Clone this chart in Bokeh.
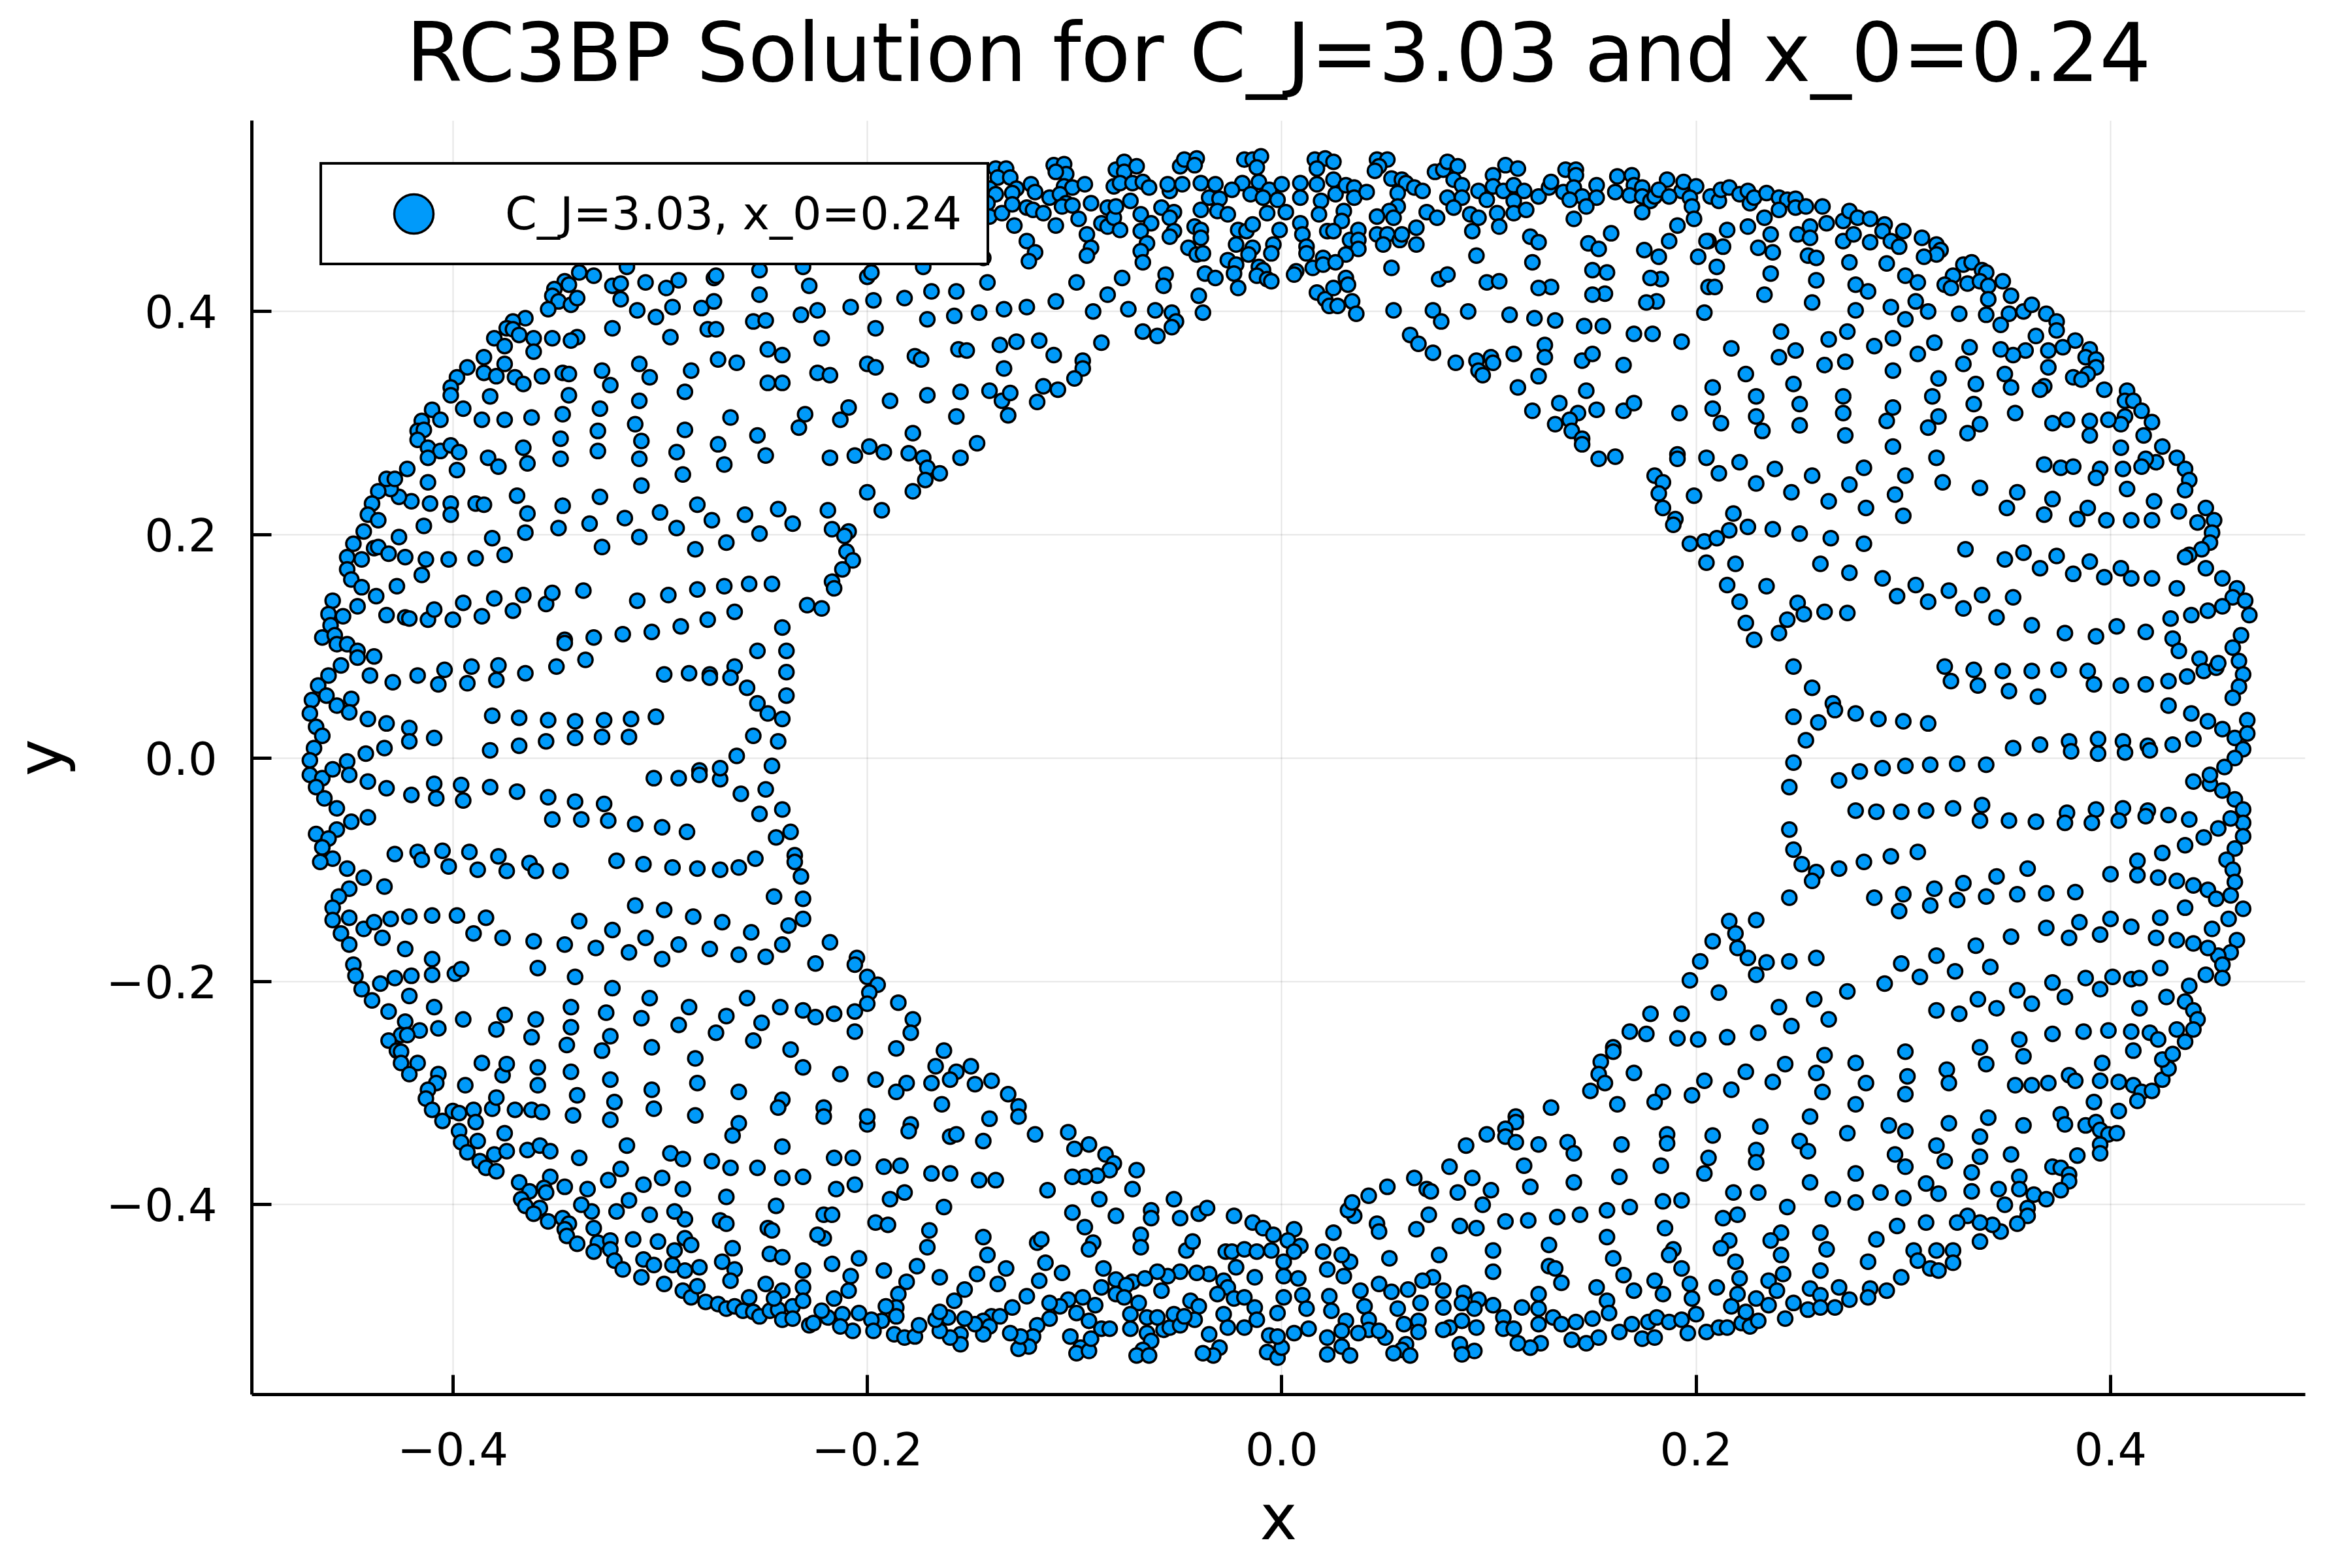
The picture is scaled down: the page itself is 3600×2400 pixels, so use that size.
from bokeh.plotting import figure
from bokeh.models import FixedTicker, Legend, LegendItem
from bokeh.embed import file_html
from bokeh.resources import INLINE

TITLE = "RC3BP Solution for C_J=3.03 and x_0=0.24"
SERIES_LABEL = "C_J=3.03, x_0=0.24"
X_LABEL = "x"
Y_LABEL = "y"
x_ticks = [-0.4, -0.2, 0.0, 0.2, 0.4]
x_tick_labels = ["\u22120.4", "\u22120.2", "0.0", "0.2", "0.4"]
y_ticks = [-0.4, -0.2, 0.0, 0.2, 0.4]
y_tick_labels = ["\u22120.4", "\u22120.2", "0.0", "0.2", "0.4"]

# (x, y) points of the trajectory
upper_left = [
(-0.339,0.435),(-0.332,0.432),(-0.346,0.427),(-0.344,0.424),(-0.351,0.420),(-0.352,0.414),(-0.349,0.409),(-0.343,0.406),(-0.340,0.412),(-0.354,0.402),
(-0.323,0.423),(-0.319,0.425),(-0.319,0.411),(-0.316,0.440),(-0.307,0.426),(-0.297,0.421),(-0.291,0.428),(-0.294,0.404),(-0.311,0.401),(-0.302,0.395),
(-0.280,0.403),(-0.274,0.409),(-0.274,0.430),(-0.273,0.432),(-0.252,0.437),(-0.252,0.415),(-0.231,0.440),(-0.228,0.423),(-0.232,0.397),(-0.255,0.391),
(-0.249,0.392),(-0.295,0.377),(-0.277,0.384),(-0.273,0.384),(-0.323,0.385),(-0.340,0.377),(-0.343,0.374),(-0.352,0.376),(-0.361,0.376),(-0.361,0.364),
(-0.365,0.394),(-0.371,0.391),(-0.374,0.385),(-0.371,0.384),(-0.368,0.379),(-0.380,0.376),(-0.375,0.369),(-0.385,0.359),(-0.375,0.353),(-0.393,0.350),
(-0.398,0.341),(-0.401,0.332),(-0.401,0.325),(-0.385,0.345),(-0.379,0.342),(-0.370,0.341),(-0.366,0.335),(-0.357,0.342),(-0.347,0.345),(-0.344,0.344),
(-0.344,0.325),(-0.328,0.347),(-0.324,0.334),(-0.310,0.353),(-0.305,0.341),(-0.285,0.347),(-0.272,0.357),(-0.263,0.354),(-0.248,0.366),(-0.241,0.361),
(-0.248,0.336),(-0.241,0.336),(-0.288,0.328),(-0.310,0.320),(-0.382,0.324),(-0.395,0.313),(-0.410,0.312),(-0.406,0.303),(-0.415,0.302),(-0.417,0.293),
(-0.414,0.294),(-0.417,0.285),(-0.412,0.278),(-0.406,0.275),(-0.401,0.280),(-0.397,0.274),(-0.412,0.269),(-0.398,0.258),(-0.386,0.303),(-0.375,0.303),
(-0.362,0.305),(-0.347,0.308),(-0.329,0.313),(-0.330,0.293),(-0.312,0.299),(-0.309,0.284),(-0.288,0.294),(-0.266,0.305),(-0.253,0.289),(-0.230,0.308),
(-0.233,0.296),(-0.348,0.286),(-0.366,0.278),(-0.383,0.269),(-0.378,0.261),(-0.364,0.264),(-0.348,0.268),(-0.330,0.275),(-0.310,0.268),(-0.292,0.274),
(-0.272,0.281),(-0.269,0.263),(-0.249,0.271),(-0.289,0.254),(-0.309,0.244),(-0.329,0.234),(-0.347,0.226),(-0.364,0.219),(-0.369,0.235),(-0.389,0.228),
(-0.385,0.227),(-0.401,0.228),(-0.401,0.218),(-0.411,0.228),(-0.420,0.230),(-0.426,0.234),(-0.430,0.241),(-0.432,0.250),(-0.428,0.250),(-0.422,0.259),
(-0.412,0.247),(-0.436,0.239),(-0.439,0.228),(-0.441,0.218),(-0.436,0.213),(-0.443,0.203),(-0.414,0.208),(-0.426,0.198),(-0.438,0.188),(-0.436,0.189),
(-0.431,0.183),(-0.423,0.180),(-0.413,0.178),(-0.402,0.178),(-0.389,0.179),(-0.375,0.182),(-0.381,0.197),(-0.365,0.202),(-0.349,0.206),(-0.334,0.210),
(-0.317,0.215),(-0.300,0.220),(-0.282,0.227),(-0.259,0.218),(-0.243,0.223),(-0.236,0.210),(-0.275,0.213),(-0.292,0.206),(-0.310,0.198),(-0.328,0.189),
(-0.283,0.187),(-0.268,0.193),(-0.252,0.201),(-0.448,0.192),(-0.451,0.180),(-0.444,0.178),(-0.451,0.169),(-0.449,0.160),(-0.444,0.153),(-0.427,0.154),
(-0.415,0.164),(-0.437,0.145),(-0.458,0.141),(-0.446,0.136),(-0.460,0.129),(-0.453,0.127),(-0.459,0.119),(-0.463,0.108),(-0.457,0.110),(-0.432,0.128),
(-0.423,0.126),(-0.421,0.125),(-0.412,0.124),(-0.409,0.133),(-0.400,0.124),(-0.386,0.127),(-0.395,0.139),(-0.380,0.143),(-0.366,0.146),(-0.371,0.132),
(-0.355,0.138),(-0.352,0.148),(-0.337,0.150),(-0.311,0.141),(-0.296,0.146),(-0.282,0.151),(-0.269,0.154),(-0.257,0.156),(-0.246,0.156),(-0.229,0.137),
(-0.264,0.131),(-0.277,0.124),(-0.290,0.118),(-0.304,0.113),(-0.318,0.111),(-0.332,0.108),(-0.346,0.106),(-0.241,0.117),
]

upper_mid = [
(-0.138,0.528),(-0.133,0.528),(-0.137,0.520),(-0.131,0.520),(-0.128,0.510),(-0.130,0.506),(-0.141,0.510),(-0.138,0.505),(-0.142,0.497),(-0.141,0.485),
(-0.135,0.488),(-0.130,0.496),(-0.129,0.477),(-0.121,0.514),(-0.119,0.507),(-0.123,0.493),(-0.120,0.491),(-0.115,0.488),(-0.112,0.502),(-0.110,0.531),
(-0.105,0.532),(-0.104,0.523),(-0.109,0.525),(-0.105,0.512),(-0.101,0.511),(-0.095,0.514),(-0.107,0.505),(-0.104,0.497),(-0.106,0.494),(-0.101,0.495),
(-0.109,0.477),(-0.098,0.483),(-0.092,0.497),(-0.094,0.469),(-0.092,0.457),(-0.094,0.450),(-0.123,0.463),(-0.119,0.453),(-0.122,0.445),(-0.084,0.493),
(-0.087,0.479),(-0.084,0.476),(-0.081,0.484),(-0.078,0.473),(-0.080,0.494),(-0.080,0.527),(-0.076,0.534),(-0.076,0.525),(-0.070,0.530),(-0.081,0.512),
(-0.078,0.515),(-0.073,0.499),(-0.072,0.515),(-0.067,0.516),(-0.064,0.511),(-0.068,0.487),(-0.063,0.479),(-0.068,0.472),(-0.065,0.461),(-0.068,0.454),
(-0.067,0.444),(-0.058,0.493),(-0.054,0.508),(-0.055,0.514),(-0.052,0.489),(-0.054,0.484),(-0.052,0.472),(-0.054,0.467),(-0.049,0.530),(-0.047,0.536),
(-0.041,0.537),(-0.042,0.531),(-0.048,0.514),(-0.039,0.515),(-0.032,0.514),(-0.035,0.502),(-0.030,0.501),(-0.031,0.490),(-0.039,0.491),(-0.026,0.487),
(-0.042,0.476),(-0.039,0.473),(-0.039,0.466),(-0.045,0.457),(-0.041,0.451),(-0.038,0.452),(-0.037,0.434),(-0.032,0.430),(-0.040,0.414),(-0.038,0.399),
(-0.056,0.433),(-0.057,0.423),(-0.018,0.536),(-0.014,0.536),(-0.010,0.539),(-0.012,0.529),(-0.019,0.515),(-0.024,0.509),(-0.015,0.505),(-0.011,0.516),
(-0.006,0.509),(-0.009,0.502),(-0.002,0.500),(0.000,0.514),(-0.007,0.488),(0.002,0.489),(-0.021,0.473),(-0.017,0.472),(-0.014,0.478),(-0.001,0.473),
(-0.022,0.460),(-0.014,0.457),(-0.004,0.460),(-0.016,0.451),(-0.005,0.452),(-0.026,0.446),(-0.022,0.442),(-0.023,0.434),(-0.021,0.421),(-0.011,0.440),
(-0.009,0.437),(-0.012,0.432),(-0.007,0.429),(-0.005,0.427),(0.009,0.479),(0.010,0.469),(0.012,0.458),(0.012,0.452),(0.007,0.436),(0.006,0.433),
(0.015,0.439),(0.020,0.448),(0.020,0.442),(0.017,0.417),(0.021,0.411),(0.016,0.536),(0.021,0.537),(0.017,0.528),(0.017,0.514),(0.009,0.515),
(0.009,0.502),(0.019,0.499),(0.018,0.487),(0.022,0.472),(0.023,0.405),
(-0.200,0.431),(-0.198,0.435),(-0.173,0.440),(-0.144,0.448),(-0.142,0.426),(-0.099,0.426),(-0.077,0.430),(-0.084,0.415),(-0.074,0.402),(-0.061,0.401),
(-0.053,0.399),(-0.051,0.391),(-0.053,0.386),(-0.067,0.382),(-0.060,0.378),(-0.091,0.400),(-0.109,0.409),(-0.123,0.404),(-0.134,0.402),(-0.146,0.399),
(-0.158,0.396),(-0.171,0.393),(-0.157,0.418),(-0.169,0.418),(-0.182,0.412),(-0.197,0.410),(-0.208,0.404),(-0.224,0.401),(-0.196,0.385),(-0.222,0.376),
(-0.200,0.353),(-0.196,0.350),(-0.224,0.345),(-0.218,0.343),(-0.177,0.360),(-0.174,0.357),(-0.156,0.366),(-0.152,0.365),(-0.136,0.370),(-0.128,0.373),
(-0.117,0.374),(-0.110,0.361),(-0.096,0.356),(-0.096,0.349),(-0.100,0.340),(-0.108,0.330),(-0.115,0.333),(-0.118,0.319),(-0.134,0.349),(-0.141,0.329),
(-0.135,0.320),(-0.131,0.327),(-0.132,0.307),(-0.155,0.328),(-0.157,0.306),(-0.171,0.325),(-0.189,0.320),(-0.209,0.314),(-0.213,0.303),(-0.178,0.291),
(-0.199,0.279),(-0.192,0.274),(-0.218,0.269),(-0.206,0.271),(-0.180,0.273),(-0.173,0.269),(-0.171,0.260),(-0.165,0.255),(-0.172,0.249),(-0.178,0.239),
(-0.155,0.269),(-0.147,0.282),(-0.200,0.238),(-0.193,0.222),(-0.219,0.222),(-0.217,0.205),(-0.209,0.203),(-0.211,0.199),(-0.210,0.185),(-0.207,0.177),
(-0.212,0.169),(-0.217,0.158),(-0.216,0.152),(-0.222,0.134),(-0.087,0.372),
]

upper_center_right = [
(0.025,0.534),(0.025,0.518),(0.026,0.505),(0.031,0.513),(0.035,0.511),(0.035,0.502),(0.041,0.507),(0.030,0.490),(0.029,0.481),(0.025,0.472),
(0.033,0.464),(0.037,0.473),(0.037,0.464),(0.037,0.456),(0.031,0.451),(0.026,0.444),(0.046,0.536),(0.051,0.536),(0.047,0.530),(0.045,0.526),
(0.053,0.519),(0.058,0.518),(0.060,0.515),(0.064,0.511),(0.068,0.508),(0.056,0.506),(0.056,0.494),(0.052,0.490),(0.054,0.484),(0.046,0.485),
(0.046,0.469),(0.051,0.469),(0.049,0.460),(0.057,0.464),(0.058,0.469),(0.065,0.475),(0.065,0.460),(0.070,0.489),(0.075,0.484),(0.074,0.525),
(0.078,0.527),(0.080,0.534),(0.085,0.530),(0.083,0.518),(0.087,0.513),(0.080,0.502),(0.087,0.502),(0.083,0.493),(0.091,0.487),(0.095,0.484),
(0.095,0.508),(0.099,0.500),(0.102,0.522),(0.102,0.512),(0.107,0.508),(0.108,0.531),(0.114,0.528),(0.112,0.513),(0.117,0.508),(0.112,0.499),
(0.104,0.488),(0.112,0.488),(0.118,0.491),(0.092,0.472),(0.105,0.476),(0.124,0.503),(0.129,0.511),(0.130,0.516),(0.136,0.507),(0.137,0.527),
(0.142,0.527),(0.142,0.522),(0.141,0.511),(0.145,0.503),(0.139,0.500),(0.152,0.513),(0.152,0.502),(0.147,0.494),(0.141,0.483),(0.161,0.507),
(0.162,0.521),(0.169,0.522),(0.170,0.513),(0.168,0.504),(0.174,0.511),(0.174,0.503),(0.178,0.499),(0.174,0.489),(0.180,0.503),(0.186,0.518),
(0.182,0.509),(0.193,0.508),(0.194,0.516),(0.200,0.512),(0.197,0.502),(0.198,0.494),(0.199,0.483),(0.187,0.503),(0.207,0.503),(0.211,0.499),
(0.212,0.509),(0.216,0.511),(0.221,0.505),(0.225,0.508),(0.226,0.497),(0.228,0.502),(0.234,0.506),(0.240,0.502),(0.244,0.500),(0.248,0.501),
(0.248,0.493),(0.253,0.494),(0.240,0.491),(0.261,0.494),(0.271,0.481),(0.274,0.490),(0.233,0.484),(0.191,0.477),(0.187,0.463),(0.215,0.473),
(0.206,0.463),(0.213,0.458),(0.225,0.476),(0.236,0.469),(0.263,0.479),(0.255,0.476),(0.249,0.469),(0.255,0.466),(0.271,0.463),(0.276,0.469),
(0.230,0.457),(0.237,0.453),(0.254,0.450),(0.258,0.448),(0.274,0.444),(0.277,0.424),(0.277,0.401),(0.258,0.428),(0.256,0.408),
(0.159,0.470),(0.148,0.461),(0.153,0.456),(0.175,0.455),(0.182,0.449),(0.201,0.449),(0.205,0.463),(0.210,0.440),(0.236,0.434),(0.233,0.415),
(0.206,0.422),(0.209,0.422),(0.204,0.399),(0.183,0.429),(0.178,0.430),(0.181,0.409),(0.176,0.408),(0.157,0.435),(0.150,0.437),(0.156,0.416),
(0.150,0.415),(0.130,0.422),(0.124,0.421),(0.121,0.444),(0.120,0.467),(0.124,0.462),(0.094,0.450),(0.053,0.439),(0.076,0.429),(0.080,0.433),
(0.099,0.426),(0.105,0.427),(0.031,0.430),(0.032,0.424),(0.025,0.421),(0.034,0.409),(0.027,0.405),(0.036,0.398),(0.054,0.401),(0.073,0.401),
(0.077,0.391),(0.090,0.400),(0.110,0.397),(0.122,0.394),(0.132,0.392),(0.146,0.387),(0.155,0.387),(0.170,0.380),(0.179,0.380),(0.193,0.373),
(0.062,0.379),(0.066,0.371),(0.073,0.363),(0.084,0.354),(0.094,0.356),(0.095,0.347),(0.097,0.343),(0.101,0.359),(0.102,0.354),(0.112,0.362),
(0.127,0.370),(0.127,0.359),(0.145,0.356),(0.150,0.362),(0.165,0.352),(0.124,0.342),(0.114,0.332),(0.147,0.329),(0.121,0.311),(0.134,0.318),
(0.143,0.309),(0.139,0.303),(0.132,0.299),(0.140,0.293),(0.145,0.286),(0.145,0.281),(0.152,0.312),(0.165,0.311),(0.170,0.318),(0.153,0.268),
(0.161,0.270),(0.192,0.309),(0.208,0.332),(0.208,0.313),(0.212,0.300),(0.217,0.367),(0.224,0.344),(0.229,0.324),(0.229,0.306),(0.232,0.293),
(0.241,0.382),(0.248,0.365),(0.240,0.359),(0.247,0.335),(0.250,0.317),(0.250,0.298),(0.264,0.375),(0.262,0.352),(0.273,0.382),(0.272,0.355),
(0.271,0.324),(0.271,0.309),(0.272,0.289),(0.191,0.272),(0.191,0.268),(0.205,0.269),(0.211,0.255),(0.221,0.265),(0.229,0.246),(0.238,0.259),
(0.246,0.238),(0.256,0.253),(0.264,0.230),(0.274,0.245),(0.180,0.253),(0.184,0.247),(0.182,0.237),(0.199,0.235),(0.184,0.224),(0.190,0.214),
(0.189,0.209),(0.197,0.192),(0.204,0.194),(0.210,0.197),(0.216,0.204),(0.218,0.219),(0.225,0.207),(0.237,0.205),(0.250,0.201),(0.265,0.197),
(0.205,0.175),(0.219,0.174),(0.215,0.155),(0.234,0.154),(0.221,0.140),(0.224,0.121),(0.240,0.112),(0.244,0.124),(0.249,0.139),(0.252,0.129),
(0.260,0.174),(0.262,0.131),(0.273,0.130),(0.274,0.166),(0.228,0.106),
]

upper_right = [
(0.278,0.484),(0.284,0.483),(0.291,0.478),(0.290,0.472),(0.284,0.462),(0.294,0.463),(0.300,0.472),(0.298,0.458),(0.309,0.466),(0.316,0.460),
(0.318,0.455),(0.316,0.451),(0.310,0.449),(0.292,0.443),(0.301,0.432),(0.307,0.426),(0.283,0.418),(0.306,0.409),(0.312,0.400),(0.294,0.404),
(0.301,0.393),(0.327,0.398),(0.329,0.442),(0.333,0.444),(0.338,0.437),(0.340,0.435),(0.324,0.432),(0.320,0.424),(0.323,0.421),(0.331,0.425),
(0.337,0.427),(0.341,0.423),(0.348,0.427),(0.341,0.411),(0.340,0.397),(0.352,0.414),(0.351,0.398),(0.347,0.388),(0.358,0.400),(0.362,0.406),
(0.369,0.398),(0.374,0.391),(0.374,0.383),(0.364,0.378),(0.383,0.374),(0.390,0.366),(0.388,0.359),(0.393,0.357),(0.393,0.350),(0.389,0.344),
(0.382,0.341),(0.386,0.339),(0.370,0.365),(0.377,0.368),(0.359,0.365),(0.353,0.361),(0.347,0.366),(0.332,0.368),(0.329,0.353),(0.315,0.372),
(0.307,0.362),(0.295,0.376),(0.286,0.369),(0.295,0.347),(0.317,0.340),(0.314,0.324),(0.295,0.314),(0.292,0.302),(0.317,0.306),(0.312,0.296),
(0.335,0.335),(0.334,0.317),(0.337,0.299),(0.331,0.291),(0.349,0.344),(0.352,0.332),(0.354,0.309),(0.370,0.350),(0.368,0.333),(0.366,0.330),
(0.397,0.330),(0.408,0.329),(0.407,0.320),(0.411,0.320),(0.415,0.311),(0.420,0.301),(0.407,0.306),(0.405,0.299),(0.399,0.303),(0.390,0.302),
(0.390,0.289),(0.379,0.303),(0.372,0.300),(0.416,0.289),(0.425,0.279),(0.405,0.278),(0.432,0.269),(0.436,0.259),(0.438,0.249),(0.436,0.240),
(0.422,0.265),(0.417,0.268),(0.415,0.261),(0.395,0.259),(0.393,0.251),(0.406,0.259),(0.408,0.241),(0.421,0.230),(0.433,0.221),(0.446,0.224),
(0.450,0.213),(0.442,0.211),(0.449,0.202),(0.448,0.193),(0.444,0.187),(0.438,0.182),(0.436,0.180),(0.446,0.170),(0.454,0.161),(0.461,0.152),
(0.459,0.144),(0.465,0.141),(0.467,0.128),(0.454,0.136),(0.447,0.132),(0.439,0.128),(0.429,0.125),(0.432,0.152),(0.420,0.161),(0.410,0.161),
(0.405,0.170),(0.397,0.162),(0.390,0.176),(0.382,0.165),(0.374,0.181),(0.366,0.170),(0.358,0.184),(0.349,0.178),(0.330,0.187),(0.281,0.192),
(0.290,0.161),(0.306,0.155),(0.297,0.145),(0.312,0.140),(0.322,0.150),(0.329,0.134),(0.338,0.146),(0.353,0.144),(0.345,0.126),(0.362,0.119),
(0.378,0.112),(0.393,0.109),(0.403,0.118),(0.417,0.113),(0.430,0.107),(0.463,0.110),(0.368,0.263),(0.376,0.260),(0.382,0.261),(0.281,0.260),
(0.301,0.253),(0.316,0.269),(0.319,0.247),(0.296,0.236),(0.282,0.224),(0.300,0.217),(0.295,0.279),(0.337,0.242),(0.355,0.238),(0.350,0.224),
(0.372,0.232),(0.368,0.218),(0.389,0.224),(0.384,0.214),(0.398,0.213),(0.410,0.213),(0.420,0.213),
]

middle_left = [
(-0.456,0.102),(-0.451,0.102),(-0.446,0.096),(-0.438,0.091),(-0.446,0.090),(-0.454,0.083),(-0.460,0.074),(-0.465,0.065),(-0.461,0.056),(-0.468,0.052),
(-0.456,0.047),(-0.449,0.053),(-0.450,0.041),(-0.469,0.040),(-0.441,0.035),(-0.432,0.031),(-0.421,0.027),(-0.421,0.015),(-0.409,0.018),(-0.433,0.009),
(-0.442,0.004),(-0.466,0.028),(-0.463,0.020),(-0.467,0.009),(-0.469,-0.002),(-0.469,-0.015),(-0.463,-0.018),(-0.458,-0.010),(-0.451,-0.003),(-0.450,-0.015),
(-0.466,-0.026),(-0.462,-0.036),(-0.456,-0.045),(-0.449,-0.057),(-0.441,-0.053),(-0.456,-0.064),(-0.466,-0.068),(-0.460,-0.072),(-0.463,-0.080),(-0.458,-0.090),
(-0.464,-0.093),(-0.451,-0.099),(-0.443,-0.107),(-0.433,-0.115),(-0.428,-0.086),(-0.417,-0.084),(-0.415,-0.091),(-0.405,-0.083),(-0.402,-0.097),(-0.392,-0.084),
(-0.388,-0.100),(-0.378,-0.088),(-0.374,-0.101),(-0.363,-0.094),(-0.360,-0.101),(-0.348,-0.101),(-0.321,-0.092),(-0.308,-0.095),(-0.294,-0.098),(-0.282,-0.099),
(-0.271,-0.100),(-0.262,-0.098),(-0.254,-0.090),(-0.235,-0.087),(-0.235,-0.093),(-0.232,-0.106),(-0.231,-0.126),(-0.245,-0.124),(-0.450,-0.117),(-0.455,-0.124),
(-0.440,0.074),(-0.429,0.068),(-0.417,0.074),(-0.404,0.079),(-0.407,0.066),(-0.391,0.082),(-0.393,0.067),(-0.378,0.083),(-0.379,0.070),(-0.365,0.076),
(-0.350,0.082),(-0.336,0.088),(-0.346,0.103),(-0.298,0.075),(-0.286,0.076),(-0.276,0.075),(-0.276,0.072),(-0.264,0.082),(-0.266,0.072),(-0.258,0.063),
(-0.253,0.049),(-0.248,0.040),(-0.241,0.035),(-0.239,0.056),(-0.239,0.077),(-0.239,0.096),(-0.253,0.096),(-0.255,0.020),(-0.243,0.015),(-0.263,0.002),
(-0.246,-0.007),(-0.249,-0.028),(-0.241,-0.046),(-0.252,-0.050),(-0.261,-0.032),(-0.271,-0.019),(-0.271,-0.009),(-0.281,-0.011),(-0.281,-0.015),(-0.291,-0.018),
(-0.303,-0.018),(-0.237,-0.066),(-0.244,-0.071),(-0.381,0.038),(-0.368,0.036),(-0.354,0.034),(-0.341,0.033),(-0.327,0.034),(-0.314,0.035),(-0.302,0.037),
(-0.382,0.007),(-0.368,0.011),(-0.355,0.015),(-0.341,0.018),(-0.328,0.019),(-0.315,0.019),(-0.441,-0.021),(-0.432,-0.027),(-0.420,-0.033),(-0.409,-0.023),
(-0.408,-0.036),(-0.396,-0.024),(-0.395,-0.038),(-0.382,-0.026),(-0.369,-0.030),(-0.354,-0.035),(-0.341,-0.039),(-0.327,-0.041),(-0.352,-0.055),(-0.338,-0.055),
(-0.325,-0.056),(-0.312,-0.059),(-0.299,-0.062),(-0.287,-0.066),
]

middle_right = [
(0.433,0.096),(0.443,0.089),(0.445,0.078),(0.451,0.081),(0.452,0.085),(0.459,0.099),(0.462,0.087),(0.464,0.075),(0.462,0.064),(0.459,0.054),
(0.437,0.073),(0.428,0.069),(0.417,0.066),(0.405,0.065),(0.392,0.066),(0.389,0.078),(0.375,0.079),(0.362,0.078),(0.348,0.078),(0.334,0.079),
(0.320,0.082),(0.323,0.069),(0.336,0.065),(0.351,0.060),(0.365,0.055),(0.247,0.082),(0.256,0.063),(0.266,0.049),(0.267,0.043),(0.277,0.040),
(0.288,0.035),(0.300,0.033),(0.312,0.031),(0.247,0.037),(0.259,0.032),(0.253,0.016),(0.428,0.047),(0.439,0.040),(0.447,0.033),(0.454,0.026),
(0.460,0.018),(0.466,0.034),(0.466,0.022),(0.464,0.008),(0.460,0.000),(0.455,-0.008),(0.440,0.017),(0.430,0.012),(0.418,0.011),(0.419,0.007),
(0.406,0.015),(0.407,0.005),(0.394,0.017),(0.394,0.004),(0.380,0.015),(0.381,0.006),(0.366,0.012),(0.353,0.009),(0.340,-0.006),(0.326,-0.005),
(0.313,-0.006),(0.301,-0.007),(0.290,-0.009),(0.279,-0.012),(0.269,-0.020),(0.247,-0.004),(0.245,-0.026),(0.440,-0.021),(0.448,-0.023),(0.448,-0.015),
(0.454,-0.029),(0.460,-0.037),(0.464,-0.046),(0.464,-0.058),(0.464,-0.070),(0.458,-0.054),(0.452,-0.063),(0.445,-0.071),(0.438,-0.055),(0.428,-0.051),
(0.418,-0.047),(0.417,-0.052),(0.406,-0.045),(0.404,-0.056),(0.393,-0.046),(0.391,-0.058),(0.379,-0.049),(0.378,-0.058),(0.364,-0.057),(0.351,-0.056),
(0.337,-0.056),(0.338,-0.042),(0.324,-0.045),(0.311,-0.047),(0.299,-0.048),(0.287,-0.048),(0.277,-0.047),(0.245,-0.064),(0.247,-0.082),(0.251,-0.095),
(0.258,-0.102),(0.256,-0.110),(0.269,-0.099),(0.281,-0.093),(0.294,-0.088),(0.307,-0.084),(0.460,-0.081),(0.456,-0.091),(0.459,-0.100),(0.460,-0.111),
(0.458,-0.123),(0.440,-0.114),(0.447,-0.118),(0.451,-0.126),(0.432,-0.110),(0.423,-0.107),(0.413,-0.105),(0.400,-0.104),(0.413,-0.092),(0.425,-0.085),
(0.436,-0.078),(0.345,-0.106),(0.360,-0.099),(0.329,-0.112),(0.315,-0.117),(0.300,-0.122),(0.286,-0.125),(0.326,-0.127),(0.340,-0.124),(0.355,-0.122),
(0.369,-0.121),(0.383,-0.120),(0.245,-0.125),
]

lower_left = [
(-0.458,-0.134),(-0.450,-0.143),(-0.458,-0.145),(-0.454,-0.157),(-0.450,-0.167),(-0.443,-0.153),(-0.438,-0.147),(-0.430,-0.144),(-0.421,-0.142),(-0.410,-0.141),
(-0.398,-0.141),(-0.384,-0.143),(-0.390,-0.157),(-0.376,-0.161),(-0.361,-0.164),(-0.346,-0.167),(-0.331,-0.170),(-0.315,-0.174),(-0.299,-0.180),(-0.291,-0.167),
(-0.276,-0.171),(-0.262,-0.176),(-0.249,-0.178),(-0.241,-0.167),(-0.238,-0.150),(-0.231,-0.144),(-0.256,-0.156),(-0.270,-0.147),(-0.284,-0.142),(-0.298,-0.136),
(-0.312,-0.132),(-0.323,-0.154),(-0.307,-0.161),(-0.339,-0.146),(-0.434,-0.161),(-0.423,-0.171),(-0.410,-0.180),(-0.448,-0.185),(-0.447,-0.195),(-0.444,-0.207),
(-0.439,-0.217),(-0.435,-0.202),(-0.428,-0.197),(-0.420,-0.195),(-0.410,-0.194),(-0.399,-0.193),(-0.396,-0.189),(-0.421,-0.213),(-0.431,-0.227),(-0.423,-0.236),
(-0.416,-0.244),(-0.425,-0.248),(-0.422,-0.248),(-0.431,-0.253),(-0.427,-0.262),(-0.425,-0.263),(-0.425,-0.273),(-0.417,-0.273),(-0.421,-0.283),(-0.407,-0.242),
(-0.409,-0.223),(-0.395,-0.234),(-0.379,-0.243),(-0.375,-0.230),(-0.360,-0.234),(-0.362,-0.250),(-0.359,-0.188),(-0.341,-0.196),(-0.323,-0.206),(-0.343,-0.223),
(-0.343,-0.241),(-0.345,-0.257),(-0.326,-0.228),(-0.324,-0.249),(-0.328,-0.262),(-0.305,-0.215),(-0.309,-0.233),(-0.304,-0.259),(-0.286,-0.223),(-0.291,-0.239),
(-0.283,-0.269),(-0.268,-0.231),(-0.273,-0.246),(-0.258,-0.215),(-0.251,-0.237),(-0.255,-0.253),(-0.242,-0.223),(-0.237,-0.261),(-0.231,-0.226),(-0.231,-0.277),
(-0.407,-0.283),(-0.408,-0.291),(-0.412,-0.297),(-0.413,-0.305),(-0.410,-0.315),(-0.405,-0.325),(-0.400,-0.316),(-0.397,-0.318),(-0.397,-0.334),(-0.390,-0.315),
(-0.389,-0.326),(-0.396,-0.344),(-0.393,-0.353),(-0.388,-0.343),(-0.387,-0.361),(-0.384,-0.367),(-0.379,-0.370),(-0.380,-0.355),(-0.374,-0.352),(-0.375,-0.336),
(-0.364,-0.351),(-0.358,-0.347),(-0.353,-0.352),(-0.381,-0.314),(-0.379,-0.304),(-0.376,-0.284),(-0.374,-0.274),(-0.386,-0.273),(-0.394,-0.293),(-0.370,-0.315),
(-0.362,-0.315),(-0.357,-0.317),(-0.359,-0.277),(-0.359,-0.293),(-0.343,-0.281),(-0.340,-0.302),(-0.342,-0.320),(-0.324,-0.288),(-0.322,-0.308),(-0.324,-0.324),
(-0.304,-0.297),(-0.303,-0.314),(-0.282,-0.291),(-0.283,-0.320),(-0.262,-0.299),(-0.241,-0.306),(-0.243,-0.313),(-0.262,-0.327),(-0.265,-0.338),(-0.241,-0.348),
(-0.316,-0.347),(-0.295,-0.354),(-0.289,-0.359),(-0.275,-0.361),(-0.266,-0.367),(-0.253,-0.367),(-0.241,-0.376),(-0.231,-0.375),(-0.339,-0.358),(-0.319,-0.368),
(-0.325,-0.378),(-0.308,-0.382),(-0.299,-0.376),(-0.289,-0.386),(-0.268,-0.393),(-0.244,-0.401),(-0.271,-0.414),(-0.268,-0.417),(-0.248,-0.421),(-0.246,-0.423),
(-0.288,-0.413),(-0.293,-0.406),(-0.305,-0.409),(-0.315,-0.396),(-0.321,-0.406),(-0.335,-0.386),(-0.346,-0.384),(-0.353,-0.375),(-0.356,-0.385),(-0.355,-0.389),
(-0.368,-0.380),(-0.363,-0.388),(-0.367,-0.395),(-0.365,-0.401),(-0.358,-0.403),(-0.361,-0.408),(-0.354,-0.415),(-0.347,-0.412),(-0.344,-0.417),(-0.346,-0.422),
(-0.345,-0.428),(-0.340,-0.435),(-0.332,-0.421),(-0.333,-0.406),(-0.338,-0.400),(-0.330,-0.434),(-0.332,-0.442),(-0.324,-0.432),(-0.324,-0.440),(-0.322,-0.450),
(-0.318,-0.458),(-0.313,-0.431),(-0.309,-0.465),(-0.308,-0.449),(-0.303,-0.454),(-0.301,-0.433),(-0.298,-0.471),(-0.293,-0.441),(-0.288,-0.430),(-0.285,-0.436),
(-0.294,-0.454),(-0.288,-0.459),(-0.281,-0.456),(-0.289,-0.477),(-0.285,-0.483),(-0.282,-0.473),(-0.278,-0.487),(-0.272,-0.489),(-0.268,-0.493),(-0.264,-0.491),
(-0.270,-0.451),(-0.264,-0.458),(-0.266,-0.468),(-0.265,-0.439),(-0.260,-0.495),(-0.257,-0.483),(-0.255,-0.496),(-0.252,-0.500),(-0.249,-0.471),(-0.247,-0.444),
(-0.241,-0.447),(-0.247,-0.495),(-0.243,-0.494),(-0.241,-0.477),(-0.245,-0.484),(-0.236,-0.491),(-0.241,-0.503),(-0.236,-0.502),(-0.231,-0.459),(-0.231,-0.474),
(-0.231,-0.486),(-0.228,-0.508),
]

lower_mid = [
(-0.218,-0.165),(-0.225,-0.184),(-0.205,-0.179),(-0.206,-0.185),(-0.200,-0.196),(-0.195,-0.203),(-0.199,-0.210),(-0.200,-0.220),(-0.206,-0.227),(-0.206,-0.245),
(-0.216,-0.229),(-0.225,-0.232),(-0.185,-0.219),(-0.178,-0.234),(-0.179,-0.246),(-0.186,-0.260),(-0.163,-0.262),(-0.167,-0.276),(-0.157,-0.281),(-0.160,-0.288),
(-0.150,-0.276),(-0.148,-0.292),(-0.140,-0.289),(-0.169,-0.291),(-0.164,-0.310),(-0.132,-0.301),(-0.127,-0.312),(-0.127,-0.321),(-0.141,-0.323),(-0.144,-0.343),
(-0.119,-0.337),(-0.103,-0.335),(-0.100,-0.350),(-0.093,-0.346),(-0.085,-0.355),(-0.081,-0.363),(-0.083,-0.369),(-0.089,-0.374),(-0.095,-0.375),(-0.101,-0.375),
(-0.113,-0.387),(-0.070,-0.369),(-0.072,-0.386),(-0.088,-0.395),(-0.080,-0.410),(-0.101,-0.407),(-0.095,-0.420),(-0.091,-0.434),(-0.093,-0.440),(-0.086,-0.457),
(-0.087,-0.474),(-0.080,-0.467),(-0.072,-0.469),(-0.068,-0.427),(-0.068,-0.438),(-0.063,-0.405),(-0.063,-0.412),(-0.052,-0.395),(-0.049,-0.412),(-0.040,-0.408),
(-0.036,-0.403),(-0.023,-0.410),(-0.014,-0.416),(-0.009,-0.421),(-0.004,-0.427),(0.006,-0.422),(0.003,-0.432),(0.009,-0.437),(0.006,-0.442),(0.001,-0.451),
(0.001,-0.464),(0.008,-0.466),(0.010,-0.481),(0.001,-0.483),(0.012,-0.493),(-0.002,-0.497),(-0.006,-0.517),(-0.007,-0.532),(-0.002,-0.537),(0.000,-0.528),
(-0.002,-0.518),(0.006,-0.515),(0.013,-0.511),(0.020,-0.442),(0.022,-0.458),(0.023,-0.482),(0.024,-0.495),(0.022,-0.519),(0.022,-0.534),(-0.027,-0.442),
(-0.024,-0.442),(-0.018,-0.440),(-0.012,-0.442),(-0.005,-0.441),(-0.022,-0.456),(-0.013,-0.465),(-0.028,-0.468),(-0.026,-0.474),(-0.023,-0.484),(-0.028,-0.498),
(-0.026,-0.510),(-0.018,-0.510),(-0.013,-0.492),(-0.012,-0.503),(-0.018,-0.483),(-0.031,-0.480),(-0.035,-0.462),(-0.041,-0.461),(-0.049,-0.460),(-0.055,-0.464),
(-0.060,-0.460),(-0.066,-0.466),(-0.075,-0.472),(-0.080,-0.480),(-0.076,-0.483),(-0.069,-0.488),(-0.065,-0.501),(-0.073,-0.498),(-0.073,-0.511),(-0.065,-0.515),
(-0.063,-0.522),(-0.067,-0.530),(-0.070,-0.535),(-0.064,-0.535),(-0.057,-0.512),(-0.054,-0.510),(-0.060,-0.501),(-0.058,-0.477),(-0.052,-0.498),(-0.049,-0.508),
(-0.044,-0.486),(-0.040,-0.491),(-0.046,-0.441),(-0.043,-0.433),(-0.042,-0.503),(-0.035,-0.516),(-0.030,-0.528),(-0.033,-0.535),(-0.038,-0.533),(-0.047,-0.500),
(-0.087,-0.511),(-0.083,-0.511),(-0.090,-0.490),(-0.093,-0.504),(-0.096,-0.483),(-0.099,-0.497),(-0.102,-0.518),(-0.097,-0.528),(-0.099,-0.533),(-0.093,-0.531),
(-0.092,-0.520),(-0.103,-0.485),(-0.107,-0.491),(-0.112,-0.488),(-0.112,-0.502),(-0.118,-0.508),(-0.120,-0.518),(-0.122,-0.527),(-0.127,-0.529),(-0.126,-0.518),
(-0.131,-0.515),(-0.130,-0.492),(-0.123,-0.482),(-0.114,-0.452),(-0.117,-0.468),(-0.106,-0.461),(-0.133,-0.457),(-0.137,-0.471),(-0.147,-0.462),(-0.144,-0.429),
(-0.142,-0.445),(-0.118,-0.434),(-0.116,-0.431),(-0.140,-0.500),(-0.136,-0.500),(-0.144,-0.504),(-0.141,-0.509),(-0.144,-0.516),(-0.148,-0.507),(-0.153,-0.476),
(-0.158,-0.486),(-0.153,-0.502),(-0.155,-0.516),(-0.155,-0.525),(-0.160,-0.519),(-0.161,-0.501),(-0.165,-0.513),(-0.167,-0.503),(-0.165,-0.496),(-0.165,-0.465),
(-0.176,-0.455),(-0.171,-0.438),(-0.170,-0.423),(-0.181,-0.469),(-0.185,-0.480),(-0.186,-0.492),(-0.191,-0.491),(-0.187,-0.516),(-0.182,-0.519),(-0.177,-0.518),
(-0.175,-0.508),(-0.186,-0.500),(-0.193,-0.504),(-0.198,-0.503),(-0.197,-0.513),(-0.192,-0.459),(-0.204,-0.448),(-0.208,-0.464),(-0.204,-0.497),(-0.207,-0.513),
(-0.212,-0.498),(-0.213,-0.509),(-0.219,-0.501),(-0.222,-0.495),(-0.226,-0.506),(-0.216,-0.484),(-0.209,-0.477),(-0.217,-0.453),(-0.221,-0.430),(-0.224,-0.427),
(-0.221,-0.409),(-0.217,-0.409),(-0.196,-0.416),(-0.190,-0.418),(-0.189,-0.395),(-0.182,-0.389),(-0.192,-0.366),(-0.184,-0.365),(-0.169,-0.372),(-0.160,-0.372),
(-0.206,-0.382),(-0.215,-0.386),(-0.207,-0.358),(-0.216,-0.358),(-0.200,-0.328),(-0.200,-0.321),(-0.221,-0.313),(-0.221,-0.321),(-0.213,-0.283),(-0.196,-0.288),
(-0.181,-0.291),(-0.186,-0.299),(-0.179,-0.328),(-0.180,-0.334),(-0.160,-0.339),(-0.157,-0.337),(-0.146,-0.378),(-0.138,-0.378),(-0.163,-0.402),
]

lower_center_right = [
(0.216,-0.146),(0.229,-0.145),(0.219,-0.157),(0.220,-0.170),(0.225,-0.179),(0.234,-0.183),(0.229,-0.194),(0.245,-0.182),(0.258,-0.179),(0.208,-0.164),
(0.202,-0.182),(0.197,-0.199),(0.211,-0.210),(0.193,-0.229),(0.178,-0.229),(0.176,-0.247),(0.168,-0.245),(0.191,-0.251),(0.201,-0.252),(0.215,-0.250),
(0.230,-0.246),(0.240,-0.223),(0.246,-0.240),(0.257,-0.216),(0.264,-0.234),(0.273,-0.209),(0.262,-0.266),(0.243,-0.274),(0.258,-0.282),(0.261,-0.299),
(0.237,-0.290),(0.224,-0.281),(0.217,-0.297),(0.204,-0.289),(0.198,-0.302),(0.184,-0.299),(0.180,-0.308),(0.162,-0.310),(0.170,-0.282),(0.160,-0.259),
(0.160,-0.263),(0.154,-0.272),(0.153,-0.283),(0.156,-0.291),(0.149,-0.298),(0.130,-0.313),(0.113,-0.321),(0.113,-0.326),(0.108,-0.332),(0.108,-0.339),
(0.113,-0.344),(0.099,-0.337),(0.089,-0.347),(0.124,-0.346),(0.138,-0.344),(0.141,-0.354),(0.117,-0.365),(0.120,-0.384),(0.141,-0.380),(0.163,-0.375),
(0.164,-0.346),(0.186,-0.337),(0.186,-0.345),(0.183,-0.365),(0.206,-0.358),(0.208,-0.338),(0.204,-0.372),(0.229,-0.351),(0.229,-0.362),(0.231,-0.330),
(0.250,-0.343),(0.254,-0.352),(0.255,-0.321),(0.255,-0.380),(0.277,-0.273),(0.273,-0.336),(0.277,-0.310),(0.277,-0.372),(0.218,-0.389),(0.230,-0.389),
(0.244,-0.402),(0.213,-0.412),(0.220,-0.409),(0.193,-0.396),(0.184,-0.397),(0.168,-0.402),(0.157,-0.405),(0.144,-0.409),(0.133,-0.411),(0.119,-0.414),
(0.108,-0.415),(0.094,-0.421),(0.086,-0.419),(0.071,-0.409),(0.065,-0.422),(0.046,-0.417),(0.047,-0.424),(0.035,-0.410),(0.032,-0.405),(0.034,-0.398),
(0.042,-0.392),(0.051,-0.384),(0.064,-0.376),(0.070,-0.386),(0.072,-0.388),(0.081,-0.366),(0.085,-0.389),(0.092,-0.376),(0.097,-0.400),(0.101,-0.387),
(0.025,-0.425),(0.266,-0.395),(0.277,-0.398),(0.260,-0.425),(0.241,-0.425),(0.236,-0.432),(0.216,-0.432),(0.212,-0.439),(0.219,-0.451),(0.221,-0.466),
(0.220,-0.480),(0.210,-0.474),(0.200,-0.498),(0.197,-0.471),(0.193,-0.457),(0.198,-0.484),(0.189,-0.440),(0.187,-0.445),(0.185,-0.421),(0.180,-0.468),
(0.184,-0.480),(0.170,-0.477),(0.165,-0.463),(0.160,-0.448),(0.157,-0.429),(0.157,-0.486),(0.158,-0.497),(0.152,-0.474),(0.150,-0.502),(0.142,-0.505),
(0.140,-0.521),(0.147,-0.524),(0.153,-0.519),(0.163,-0.514),(0.169,-0.507),(0.174,-0.520),(0.180,-0.519),(0.177,-0.505),(0.181,-0.501),(0.187,-0.505),
(0.193,-0.503),(0.196,-0.515),(0.205,-0.514),(0.211,-0.510),(0.215,-0.510),(0.217,-0.491),(0.222,-0.506),(0.226,-0.509),(0.224,-0.496),(0.230,-0.504),
(0.229,-0.484),(0.235,-0.490),(0.235,-0.468),(0.239,-0.477),(0.242,-0.462),(0.243,-0.502),(0.247,-0.488),(0.255,-0.475),(0.260,-0.481),(0.254,-0.494),
(0.260,-0.492),(0.267,-0.492),(0.269,-0.474),(0.274,-0.485),(0.260,-0.459),(0.263,-0.440),(0.241,-0.445),(0.129,-0.436),(0.129,-0.455),(0.132,-0.457),
(0.135,-0.470),(0.124,-0.480),(0.124,-0.493),(0.124,-0.507),(0.131,-0.501),(0.135,-0.507),(0.125,-0.524),(0.120,-0.528),(0.114,-0.524),(0.116,-0.492),
(0.107,-0.501),(0.107,-0.511),(0.112,-0.511),(0.102,-0.490),(0.102,-0.441),(0.102,-0.460),(0.095,-0.485),(0.093,-0.493),(0.094,-0.510),(0.093,-0.531),
(0.086,-0.525),(0.087,-0.534),(0.087,-0.504),(0.088,-0.479),(0.087,-0.488),(0.081,-0.510),(0.078,-0.512),(0.078,-0.492),(0.078,-0.477),(0.076,-0.445),
(0.073,-0.465),(0.068,-0.468),(0.067,-0.488),(0.066,-0.504),(0.066,-0.514),(0.059,-0.507),(0.060,-0.525),(0.058,-0.530),(0.062,-0.535),(0.054,-0.533),
(0.061,-0.476),(0.056,-0.493),(0.053,-0.478),(0.052,-0.448),(0.047,-0.471),(0.040,-0.491),(0.042,-0.503),(0.042,-0.512),(0.037,-0.515),(0.038,-0.477),
(0.030,-0.464),(0.033,-0.451),(0.029,-0.445),(0.031,-0.504),(0.029,-0.513),(0.029,-0.527),(0.033,-0.535),(0.050,-0.519),(0.047,-0.513),
]

lower_right = [
(0.298,-0.137),(0.313,-0.132),(0.369,-0.152),(0.385,-0.147),(0.400,-0.144),(0.410,-0.151),(0.424,-0.143),(0.436,-0.134),(0.464,-0.135),(0.457,-0.144),
(0.449,-0.153),(0.461,-0.163),(0.458,-0.174),(0.452,-0.177),(0.454,-0.185),(0.454,-0.197),(0.446,-0.194),(0.447,-0.170),(0.440,-0.166),(0.432,-0.163),
(0.422,-0.161),(0.395,-0.158),(0.380,-0.161),(0.352,-0.160),(0.335,-0.168),(0.316,-0.177),(0.299,-0.184),(0.308,-0.196),(0.325,-0.191),(0.342,-0.187),
(0.291,-0.202),(0.316,-0.226),(0.327,-0.229),(0.336,-0.216),(0.345,-0.224),(0.355,-0.208),(0.362,-0.220),(0.372,-0.201),(0.378,-0.214),(0.388,-0.197),
(0.395,-0.207),(0.401,-0.196),(0.410,-0.198),(0.414,-0.197),(0.424,-0.188),(0.438,-0.204),(0.414,-0.224),(0.427,-0.214),(0.436,-0.218),(0.440,-0.226),
(0.442,-0.234),(0.440,-0.243),(0.432,-0.243),(0.436,-0.254),(0.419,-0.246),(0.423,-0.252),(0.410,-0.245),(0.411,-0.262),(0.399,-0.244),(0.387,-0.245),
(0.372,-0.247),(0.356,-0.252),(0.358,-0.267),(0.337,-0.259),(0.340,-0.274),(0.301,-0.263),(0.282,-0.291),(0.302,-0.285),(0.301,-0.301),(0.321,-0.279),
(0.322,-0.291),(0.354,-0.293),(0.362,-0.293),(0.370,-0.291),(0.380,-0.284),(0.383,-0.289),(0.395,-0.289),(0.396,-0.273),(0.404,-0.290),(0.411,-0.293),
(0.415,-0.299),(0.413,-0.307),(0.420,-0.298),(0.425,-0.288),(0.428,-0.278),(0.425,-0.270),(0.430,-0.265),(0.404,-0.316),(0.392,-0.308),(0.376,-0.319),
(0.378,-0.328),(0.388,-0.329),(0.393,-0.326),(0.395,-0.333),(0.399,-0.337),(0.403,-0.336),(0.395,-0.346),(0.395,-0.354),(0.384,-0.356),(0.358,-0.329),
(0.341,-0.322),(0.337,-0.339),(0.337,-0.357),(0.322,-0.327),(0.316,-0.347),(0.320,-0.361),(0.293,-0.329),(0.301,-0.334),(0.296,-0.355),(0.301,-0.366),
(0.289,-0.389),(0.300,-0.394),(0.311,-0.381),(0.317,-0.390),(0.333,-0.371),(0.333,-0.388),(0.346,-0.386),(0.352,-0.355),(0.356,-0.375),(0.356,-0.386),
(0.363,-0.391),(0.369,-0.395),(0.372,-0.366),(0.376,-0.367),(0.380,-0.373),(0.380,-0.379),(0.376,-0.387),(0.360,-0.403),(0.360,-0.410),(0.355,-0.417),
(0.349,-0.400),(0.347,-0.424),(0.343,-0.418),(0.337,-0.416),(0.337,-0.433),(0.331,-0.410),(0.326,-0.416),(0.311,-0.416),(0.297,-0.419),(0.287,-0.431),
(0.283,-0.451),(0.305,-0.441),(0.307,-0.450),(0.316,-0.441),(0.313,-0.457),(0.317,-0.459),(0.324,-0.441),(0.324,-0.452),(0.299,-0.465),(0.292,-0.477),
(0.284,-0.475),(0.283,-0.483),
]

points = (upper_left + upper_mid + upper_center_right + upper_right + middle_left
          + middle_right + lower_left + lower_mid + lower_center_right + lower_right)
xs = [pt[0] for pt in points]
ys = [pt[1] for pt in points]

FONT = "DejaVu Sans"
SHIFT_UP = 30  # the figure is nudged up so the title sits close to the top edge

p = figure(
    frame_width=3143, frame_height=1950,
    min_border_left=385, min_border_right=56, min_border_top=214, min_border_bottom=250,
    x_range=(-0.497, 0.494), y_range=(-0.570, 0.571),
    output_backend="svg", toolbar_location=None, title=TITLE,
    styles={"margin-top": f"-{SHIFT_UP}px"},
)
p.outline_line_color = None
p.background_fill_color = "white"
p.border_fill_color = "white"

p.title.text_font = FONT
p.title.text_font_size = "124px"
p.title.text_font_style = "normal"
p.title.align = "center"
p.title.text_color = "black"
p.title.standoff = 63

r = p.scatter(xs, ys, size=22, marker="circle", fill_color="#009AFA",
              line_color="black", line_width=3.5)

p.xaxis.ticker = FixedTicker(ticks=x_ticks)
p.yaxis.ticker = FixedTicker(ticks=y_ticks)
p.xaxis.major_label_overrides = dict(zip(x_ticks, x_tick_labels))
p.yaxis.major_label_overrides = dict(zip(y_ticks, y_tick_labels))
p.xgrid.ticker = FixedTicker(ticks=x_ticks)
p.ygrid.ticker = FixedTicker(ticks=y_ticks)
for g in (p.xgrid, p.ygrid):
    g.grid_line_color = "black"
    g.grid_line_alpha = 0.1
    g.grid_line_width = 2

p.xaxis.axis_label = X_LABEL
p.yaxis.axis_label = Y_LABEL
for ax in (p.xaxis, p.yaxis):
    ax.axis_line_width = 5
    ax.axis_line_color = "black"
    ax.major_tick_in = 30
    ax.major_tick_out = 0
    ax.major_tick_line_width = 5
    ax.major_tick_line_color = "black"
    ax.minor_tick_line_color = None
    ax.major_label_text_font = FONT
    ax.major_label_text_font_size = "70px"
    ax.major_label_text_color = "black"
    ax.axis_label_text_font = FONT
    ax.axis_label_text_font_size = "96px"
    ax.axis_label_text_font_style = "normal"
    ax.axis_label_text_color = "black"
p.xaxis.major_label_standoff = 57
p.yaxis.major_label_standoff = 53
p.xaxis.axis_label_standoff = 21
p.yaxis.axis_label_standoff = 42

legend = Legend(
    items=[LegendItem(label=SERIES_LABEL, renderers=[r])],
    location=(104, 1728),
    padding=0, spacing=0, margin=0,
    glyph_width=280, glyph_height=150,
    label_standoff=0, label_width=737,
    label_text_font=FONT, label_text_font_size="70px", label_text_color="black",
    border_line_color="black", border_line_width=4, border_line_alpha=1.0,
    background_fill_color="white", background_fill_alpha=1.0,
)
p.add_layout(legend)

open("out.html", "w").write(file_html(p, INLINE))
